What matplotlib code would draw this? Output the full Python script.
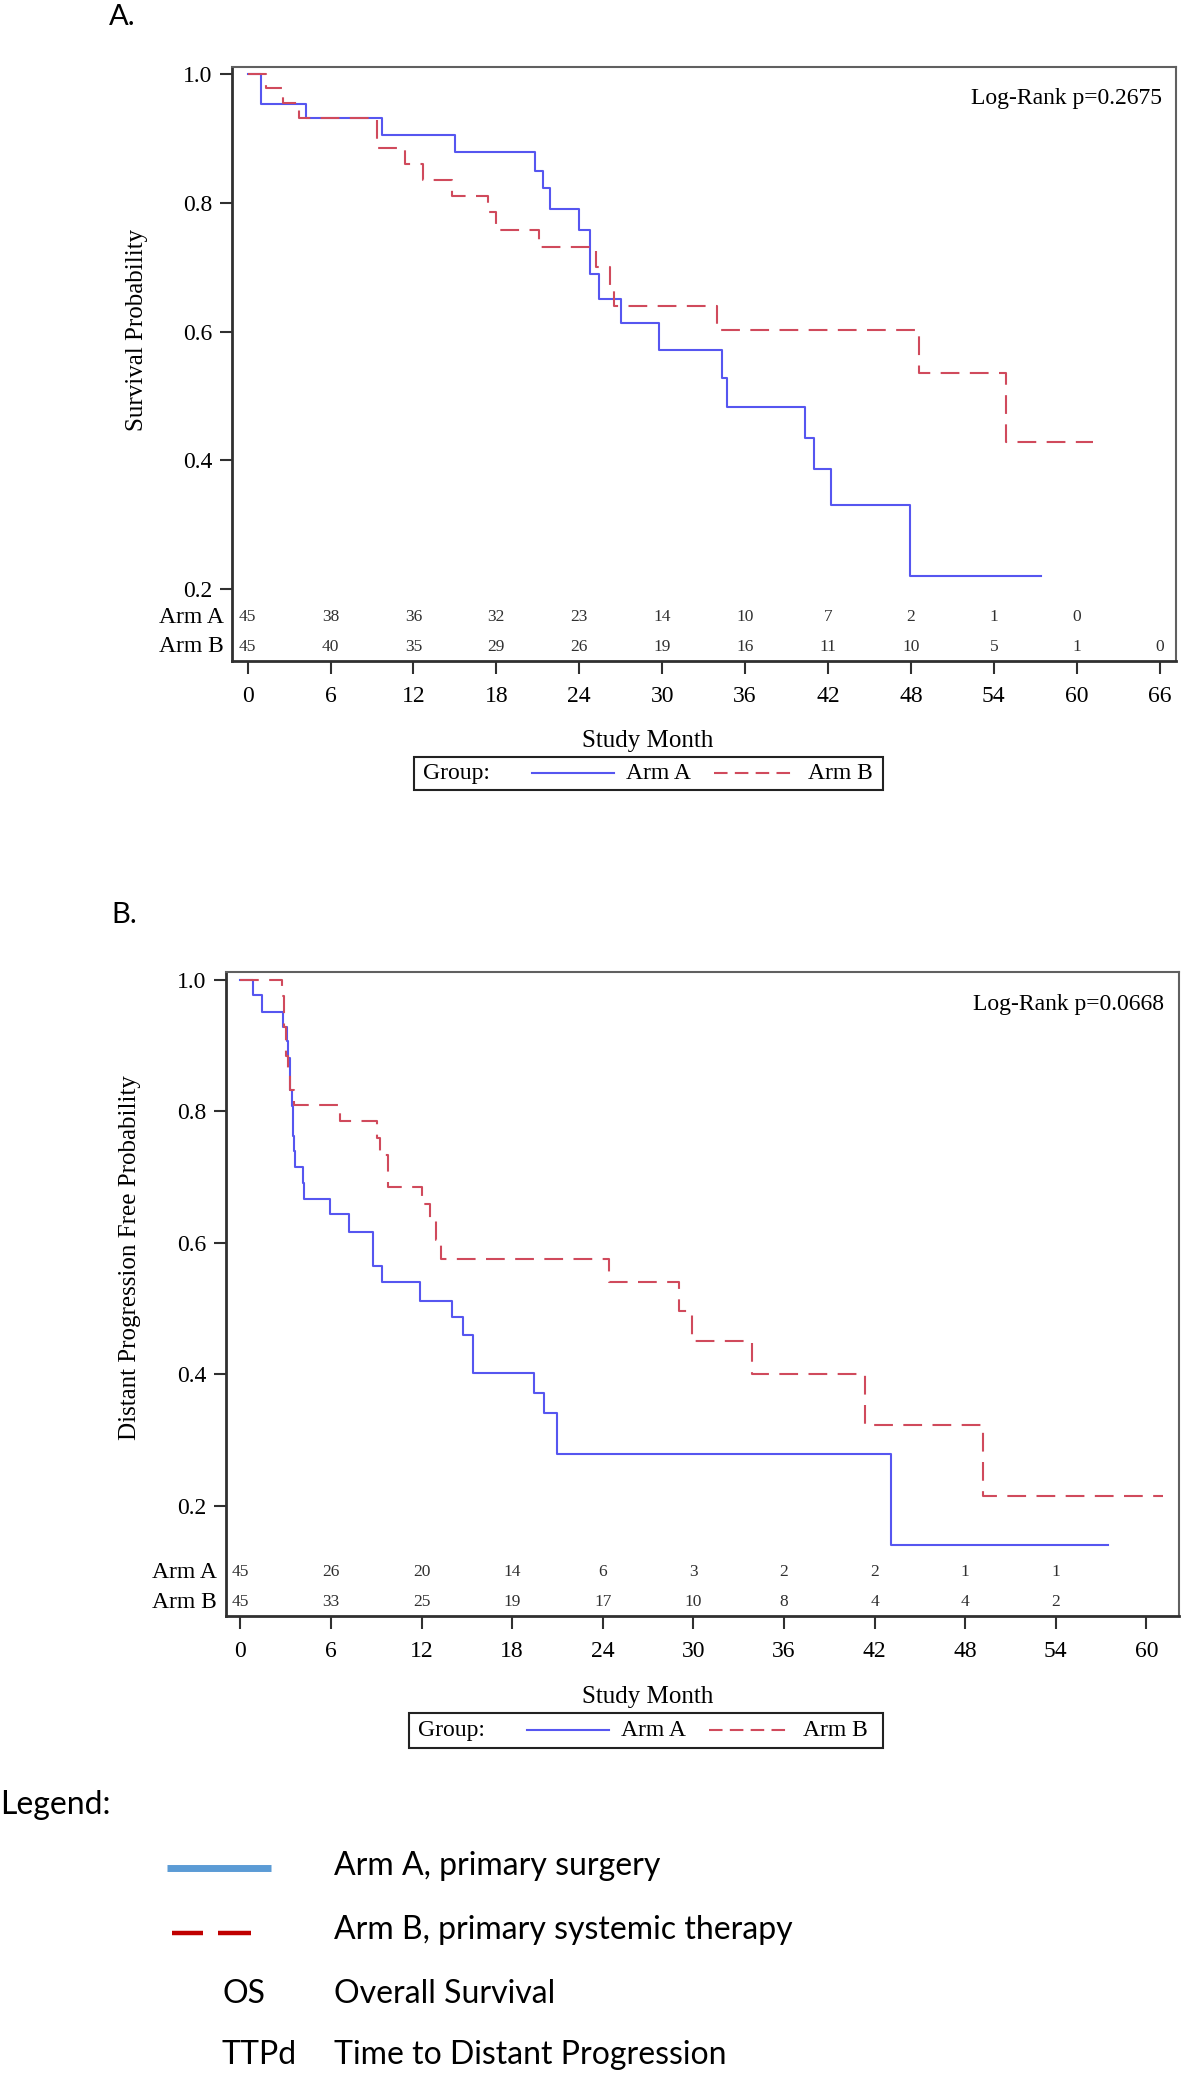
import numpy as np
import matplotlib.pyplot as plt
import matplotlib.transforms as mtransforms
from matplotlib.lines import Line2D
from matplotlib.patches import Rectangle

W, H = 1181, 2076
SERIF = 'Liberation Serif'
SANS = 'Lato'
BLUE = '#5656f0'
RED = '#d04a5c'

# ---- Panel A: overall survival (months, survival probability) ----
os_arm_a_t = [0, 0.97, 4.24, 9.72, 14.99, 20.8, 21.4, 21.9, 24.0, 24.75, 25.4,
              27.05, 29.8, 34.36, 34.7, 40.3, 41.0, 42.2, 47.9, 57.4]
os_arm_a_s = [1.0, 0.953, 0.931, 0.905, 0.879, 0.850, 0.8225, 0.791, 0.758, 0.690,
              0.650, 0.614, 0.5715, 0.528, 0.483, 0.434, 0.386, 0.331, 0.221, 0.221]
os_arm_b_t = [0, 1.33, 2.58, 3.74, 9.37, 11.4, 12.7, 14.8, 17.4, 18.0, 21.1, 25.2,
              26.2, 26.5, 34.0, 48.6, 54.9, 61.2]
os_arm_b_s = [1.0, 0.978, 0.955, 0.931, 0.885, 0.860, 0.835, 0.811, 0.785, 0.758,
              0.731, 0.701, 0.670, 0.639, 0.603, 0.535, 0.429, 0.429]
os_ticks = list(range(0, 67, 6))
os_risk_a = [45, 38, 36, 32, 23, 14, 10, 7, 2, 1, 0]
os_risk_b = [45, 40, 35, 29, 26, 19, 16, 11, 10, 5, 1, 0]

# ---- Panel B: time to distant progression ----
dp_arm_a_t = [0, 0.86, 1.42, 2.85, 3.1, 3.15, 3.28, 3.41, 3.48, 3.56, 3.61, 4.12, 4.25,
              5.95, 7.22, 8.77, 9.38, 11.9, 14.03, 14.75, 15.43, 19.45, 20.14, 20.95,
              43.1, 57.45]
dp_arm_a_s = [1.0, 0.977, 0.952, 0.929, 0.907, 0.881, 0.833, 0.808, 0.762, 0.739,
              0.716, 0.691, 0.667, 0.644, 0.616, 0.565, 0.540, 0.512, 0.487, 0.459,
              0.4015, 0.371, 0.341, 0.279, 0.1406, 0.1406]
dp_arm_b_t = [0, 2.77, 2.9, 3.0, 3.15, 3.31, 3.56, 6.61, 9.08, 9.26, 9.79, 12.0, 12.56,
              12.94, 13.27, 24.4, 29.05, 29.9, 33.9, 41.4, 49.15, 61.1]
dp_arm_b_s = [1.0, 0.975, 0.929, 0.884, 0.858, 0.833, 0.809, 0.786, 0.759, 0.734,
              0.685, 0.659, 0.6325, 0.604, 0.575, 0.541, 0.4957, 0.450, 0.401, 0.322,
              0.2146, 0.2146]
dp_ticks = list(range(0, 61, 6))
dp_risk_a = [45, 26, 20, 14, 6, 3, 2, 2, 1, 1]
dp_risk_b = [45, 33, 25, 19, 17, 10, 8, 4, 4, 2]


def fx(x):
    return x / W


def fy(y):
    return 1 - y / H


def km_panel(fig, box, xlim, ylim, t_a, s_a, t_b, s_b, ticks, risk_a, risk_b,
             pval, risk_y, lab_gap):
    left, top, right, bottom = box
    ax = fig.add_axes([fx(left), fy(bottom), fx(right - left), (bottom - top) / H])
    ax.step(t_a, s_a, where='post', color=BLUE, lw=1.5)
    ax.step(t_b, s_b, where='post', color=RED, lw=1.5, dashes=(9, 5))
    ax.set_xlim(xlim)
    ax.set_ylim(ylim)
    ax.set_xticks(ticks)
    ax.set_yticks([0.2, 0.4, 0.6, 0.8, 1.0])
    ax.set_yticklabels(['0.2', '0.4', '0.6', '0.8', '1.0'])
    ax.tick_params(direction='out', length=9, width=1.5, color='#303030',
                   labelsize=17, pad=5)
    ax.tick_params(axis='x', pad=9)
    for lab in ax.get_xticklabels() + ax.get_yticklabels():
        lab.set_family(SERIF)
    for side in ['left', 'bottom']:
        ax.spines[side].set_linewidth(2)
        ax.spines[side].set_color('#303030')
    for side in ['top', 'right']:
        ax.spines[side].set_linewidth(1.5)
        ax.spines[side].set_color('#606060')

    # numbers at risk inside the plot area
    trans = mtransforms.blended_transform_factory(ax.transData, ax.transAxes)
    for row, (name, counts) in enumerate([('Arm A', risk_a), ('Arm B', risk_b)]):
        for m, n in zip(ticks, counts):
            ax.text(m, risk_y[row], str(n), transform=trans, ha='center', va='center',
                    fontsize=12.5, family=SERIF, color='#303030')
        ax.text(-lab_gap, risk_y[row], name, transform=ax.transAxes, ha='right',
                va='center', fontsize=17, family=SERIF)

    ax.text(0.985, 0.965, pval, transform=ax.transAxes, ha='right', va='top',
            fontsize=17, family=SERIF)
    return ax


def group_box(fig, x0, x1, y0, y1):
    yc = (y0 + y1) / 2
    fig.add_artist(Rectangle((fx(x0), fy(y1)), (x1 - x0) / W, (y1 - y0) / H,
                             transform=fig.transFigure, fill=False, lw=1.5, ec='#222222'))
    fig.text(fx(x0 + 9), fy(yc), 'Group:', ha='left', va='center', fontsize=17, family=SERIF)
    fig.add_artist(Line2D([fx(x0 + 118), fx(x0 + 200)], [fy(yc), fy(yc)],
                          transform=fig.transFigure, color=BLUE, lw=1.5))
    fig.text(fx(x0 + 212), fy(yc), 'Arm A', ha='left', va='center', fontsize=17, family=SERIF)
    fig.add_artist(Line2D([fx(x0 + 300), fx(x0 + 381)], [fy(yc), fy(yc)],
                          transform=fig.transFigure, color=RED, lw=1.5, dashes=(6.5, 3.5)))
    fig.text(fx(x0 + 394), fy(yc), 'Arm B', ha='left', va='center', fontsize=17, family=SERIF)


fig = plt.figure(figsize=(W / 100, H / 100), dpi=100)

# Panel A
axA = km_panel(fig, (231.5, 66.7, 1176, 661), (-1.165, 67.18), (0.0885, 1.0113),
               os_arm_a_t, os_arm_a_s, os_arm_b_t, os_arm_b_s, os_ticks,
               os_risk_a, os_risk_b, 'Log-Rank p=0.2675', (0.0735, 0.024), 0.008)
fig.text(fx(137), fy(330), 'Survival Probability', rotation=90, ha='center',
         va='center', fontsize=18, family=SERIF)
fig.text(fx(648), fy(741), 'Study Month', ha='center', va='center', fontsize=18, family=SERIF)
group_box(fig, 413.8, 883, 756.7, 790)
fig.text(fx(109), fy(17), 'A.', ha='left', va='center', fontsize=21, family=SANS)

# Panel B
axB = km_panel(fig, (225.8, 971.7, 1178.7, 1616), (-0.96, 62.14), (0.032, 1.0126),
               dp_arm_a_t, dp_arm_a_s, dp_arm_b_t, dp_arm_b_s, dp_ticks,
               dp_risk_a, dp_risk_b, 'Log-Rank p=0.0668', (0.0678, 0.0217), 0.0092)
fig.text(fx(130), fy(1258), 'Distant Progression Free Probability', rotation=90,
         ha='center', va='center', fontsize=18, family=SERIF)
fig.text(fx(648), fy(1697), 'Study Month', ha='center', va='center', fontsize=18, family=SERIF)
group_box(fig, 409, 883, 1713, 1747.7)
fig.text(fx(111), fy(915), 'B.', ha='left', va='center', fontsize=21, family=SANS)

# bottom legend
LEG_FS = 23
fig.text(fx(0), fy(1805), 'Legend:', ha='left', va='center', fontsize=LEG_FS, family=SANS)
fig.add_artist(Line2D([fx(167), fx(271)], [fy(1868), fy(1868)], transform=fig.transFigure,
                      color='#5b9bd5', lw=5, solid_capstyle='butt'))
fig.add_artist(Line2D([fx(172), fx(203)], [fy(1933), fy(1933)], transform=fig.transFigure,
                      color='#c00000', lw=3.2, solid_capstyle='butt'))
fig.add_artist(Line2D([fx(218), fx(251)], [fy(1933), fy(1933)], transform=fig.transFigure,
                      color='#c00000', lw=3.2, solid_capstyle='butt'))
fig.text(fx(333.6), fy(1866), 'Arm A, primary surgery', ha='left', va='center',
         fontsize=LEG_FS, family=SANS)
fig.text(fx(333.6), fy(1930), 'Arm B, primary systemic therapy', ha='left', va='center',
         fontsize=LEG_FS, family=SANS)
fig.text(fx(222), fy(1994), 'OS', ha='left', va='center', fontsize=LEG_FS, family=SANS)
fig.text(fx(333.6), fy(1994), 'Overall Survival', ha='left', va='center',
         fontsize=LEG_FS, family=SANS)
fig.text(fx(222), fy(2055), 'TTPd', ha='left', va='center', fontsize=LEG_FS, family=SANS)
fig.text(fx(333.6), fy(2055), 'Time to Distant Progression', ha='left', va='center',
         fontsize=LEG_FS, family=SANS)

fig.savefig('out.png', dpi=100, facecolor='white')
